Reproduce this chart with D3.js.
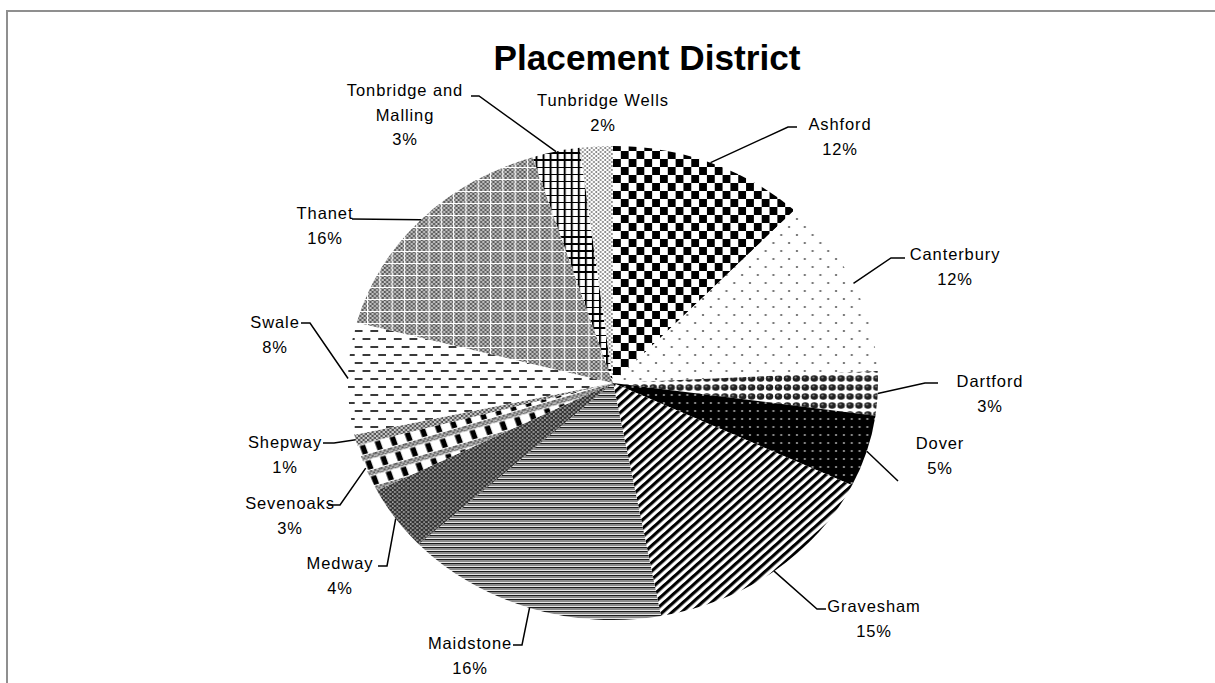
<!DOCTYPE html>
<html><head><meta charset="utf-8">
<script src="https://cdn.jsdelivr.net/npm/d3@7"></script>
<style>
body{margin:0;background:#fff;}
text{font-family:"Liberation Sans",Arial,sans-serif;fill:#000;}
</style>
</head><body>
<svg id="chart" width="1215" height="683"></svg>
<script>
// ---- data ----
const title = "Placement District";
const categories = ["Ashford","Canterbury","Dartford","Dover","Gravesham","Maidstone","Medway","Sevenoaks","Shepway","Swale","Thanet","Tonbridge and Malling","Tunbridge Wells"];
const values = [12, 12.2, 3, 4.9, 15, 16, 4.4, 3.3, 0.7, 7.6, 16, 2.9, 2];

// ---- layout (positions only) ----
const labelLines = {"Tonbridge and Malling": ["Tonbridge and", "Malling"]};
const labelPos = [
  [840,130],[955,260],[990,387],[940,449],[874,612],[470,649],[340,569],
  [290,509],[285,448],[275,328],[325,219],[405,96],[603,106]
];
// leader polyline: label-side points (data-side end comes from the pie)
const leaderPts = [
  [[797,127],[788,127]],
  [[905,258],[891,258]],
  [[938,383],[925,383]],
  [[898,481]],
  [[826,609],[817,609]],
  [[513,645],[522,645]],
  [[378,566],[387,566]],
  [[328,505],[340,505]],
  [[323,443],[334,443]],
  [[301,323],[310,323]],
  [[352,219]],
  [[471,96],[479,96]],
  null
];

const cx = 613, cy = 383, ry = 237, rx = 265, sx = rx / ry;

const svg = d3.select("#chart");
const defs = svg.append("defs");

// ---- patterns ----
function pat(id, w, h, extra) {
  const p = defs.append("pattern").attr("id", id).attr("patternUnits", "userSpaceOnUse")
    .attr("width", w).attr("height", h);
  if (extra) p.attr("patternTransform", extra);
  return p;
}
let p;
// Ashford checker
p = pat("p0", 14, 16);
p.append("rect").attr("width",14).attr("height",16).attr("fill","#fff");
p.append("rect").attr("x",0).attr("y",0).attr("width",7).attr("height",8).attr("fill","#000");
p.append("rect").attr("x",7).attr("y",8).attr("width",7).attr("height",8).attr("fill","#000");
// Canterbury sparse dots
p = pat("p1", 14, 16);
p.append("rect").attr("width",14).attr("height",16).attr("fill","#fff");
p.append("circle").attr("cx",3.5).attr("cy",4).attr("r",1.1).attr("fill","#666");
p.append("circle").attr("cx",10.5).attr("cy",12).attr("r",1.1).attr("fill","#666");
// Dartford spheres
p = pat("p2", 8, 9);
p.append("rect").attr("width",8).attr("height",9).attr("fill","#fff");
p.append("circle").attr("cx",4).attr("cy",4.5).attr("r",3.3).attr("fill","#222");
p.append("circle").attr("cx",3.2).attr("cy",3.6).attr("r",1).attr("fill","#888");
// Dover black with dots
p = pat("p3", 7, 8);
p.append("rect").attr("width",7).attr("height",8).attr("fill","#000");
p.append("circle").attr("cx",3.5).attr("cy",4).attr("r",1.1).attr("fill","#999");
// Gravesham diagonal stripes
p = pat("p4", 6, 6, "rotate(45)");
p.append("rect").attr("width",6).attr("height",6).attr("fill","#fff");
p.append("rect").attr("width",3).attr("height",6).attr("fill","#000");
// Maidstone horizontal lines
p = pat("p5", 4, 4);
p.append("rect").attr("width",4).attr("height",4).attr("fill","#fff");
p.append("rect").attr("y",0).attr("width",4).attr("height",1.5).attr("fill","#1a1a1a");
p.append("rect").attr("y",2).attr("width",4).attr("height",1.2).attr("fill","#8a8a8a");
// Medway fine dark grid
p = pat("p6", 4, 4);
p.append("rect").attr("width",4).attr("height",4).attr("fill","#333");
p.append("rect").attr("x",0).attr("y",0).attr("width",2).attr("height",2).attr("fill","#8a8a8a");
p.append("rect").attr("x",2.5).attr("y",2.5).attr("width",1.2).attr("height",1.2).attr("fill","#eee");
// small gray checker (helper)
p = pat("pg", 4, 4);
p.append("rect").attr("width",4).attr("height",4).attr("fill","#c8c8c8");
p.append("rect").attr("width",2).attr("height",2).attr("fill","#555");
p.append("rect").attr("x",2).attr("y",2).attr("width",2).attr("height",2).attr("fill","#555");
// Sevenoaks large checks with gray bands
p = pat("p7", 14, 16, "rotate(-18)");
p.append("rect").attr("width",14).attr("height",16).attr("fill","#fff");
p.append("rect").attr("width",14).attr("height",5).attr("fill","url(#pg)");
p.append("rect").attr("x",3).attr("y",6).attr("width",5).attr("height",9).attr("fill","#000");
// Shepway gray checker
p = pat("p8", 4, 4);
p.append("rect").attr("width",4).attr("height",4).attr("fill","url(#pg)");
// Swale dashes
p = pat("p9", 14, 16);
p.append("rect").attr("width",14).attr("height",16).attr("fill","#fff");
p.append("rect").attr("x",0).attr("y",3).attr("width",7).attr("height",2).attr("fill","#3a3a3a");
p.append("rect").attr("x",7).attr("y",11).attr("width",7).attr("height",2).attr("fill","#3a3a3a");
// Thanet gray checker with white grid
p = pat("p10", 11, 12);
p.append("rect").attr("width",11).attr("height",12).attr("fill","url(#pg)");
p.append("rect").attr("width",11).attr("height",1).attr("fill","#fff");
p.append("rect").attr("width",1).attr("height",12).attr("fill","#fff");
// Tonbridge plaid
p = pat("p11", 6.3, 7);
p.append("rect").attr("width",6.3).attr("height",7).attr("fill","#fff");
p.append("rect").attr("width",6.3).attr("height",2).attr("fill","#000");
p.append("rect").attr("width",1.8).attr("height",7).attr("fill","#000");
// Tunbridge Wells fine dots
p = pat("p12", 4, 4);
p.append("rect").attr("width",4).attr("height",4).attr("fill","#fff");
p.append("circle").attr("cx",1).attr("cy",1).attr("r",0.9).attr("fill","#777");
p.append("circle").attr("cx",3).attr("cy",3).attr("r",0.9).attr("fill","#777");

// ---- border ----
svg.append("rect").attr("x",7).attr("y",11).attr("width",1240).attr("height",700)
  .attr("fill","none").attr("stroke","#8f8f8f").attr("stroke-width",2);

// ---- title ----
svg.append("text").attr("x",647).attr("y",70).attr("text-anchor","middle")
  .attr("font-size",35).attr("font-weight","bold")
  .attr("textLength",307).attr("lengthAdjust","spacingAndGlyphs").text(title);

// ---- pie ----
const data = categories.map((c,i)=>({name:c, value:values[i], idx:i}));
const pie = d3.pie().value(d=>d.value).sort(null).startAngle(0).endAngle(2*Math.PI);
const arcs = pie(data);
const arc = d3.arc().innerRadius(0).outerRadius(ry);

const g = svg.append("g").attr("transform",`translate(${cx},${cy}) scale(${sx},1)`);
g.selectAll("path").data(arcs).join("path")
  .attr("d", arc)
  .attr("fill", d => `url(#p${d.index})`)
  .attr("stroke","none");

const total = d3.sum(values);
function edgePoint(a){ return [cx + rx*Math.sin(a), cy - ry*Math.cos(a)]; }

// ---- leader lines ----
const line = d3.line();
arcs.forEach((d,i)=>{
  if (!leaderPts[i]) return;
  const mid = (d.startAngle + d.endAngle)/2;
  const pts = leaderPts[i].concat([edgePoint(mid)]);
  svg.append("path").attr("d", line(pts)).attr("fill","none")
    .attr("stroke","#000").attr("stroke-width",1.5);
});

// ---- labels ----
arcs.forEach((d,i)=>{
  const lines = (labelLines[d.data.name] || [d.data.name]).concat([Math.round(d.value/total*100)+"%"]);
  const t = svg.append("text").attr("text-anchor","middle").attr("font-size",16.5)
    .attr("letter-spacing","0.9px");
  lines.forEach((s,k)=>{
    t.append("tspan").attr("x",labelPos[i][0]).attr("y",labelPos[i][1] + k*24.5).text(s);
  });
});
</script>
</body></html>
